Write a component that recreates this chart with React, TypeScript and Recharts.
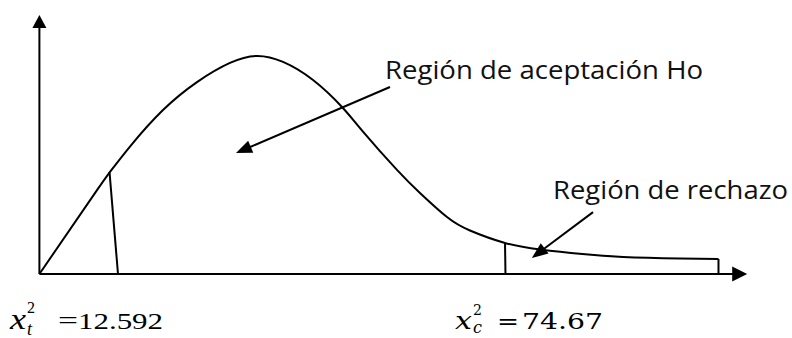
import React from "react";
import { ComposedChart, Line, XAxis, YAxis, ReferenceLine } from "recharts";

// Curve (x in chi-square units, y in relative density units 0..100)
const curveX = [0, 9.23, 11.31, 14.51, 19.8, 25.25, 30.53, 34.86, 39.03, 43.84, 48.48, 51.84, 57.29, 60.97, 65.3, 68.98, 74.59, 80.2, 87, 93.5, 102.6, 108.8];
const curveY = [0, 32.4, 39.4, 49.2, 63.3, 74.1, 81.5, 84.2, 81.9, 74.9, 64.5, 55.0, 40.2, 31.3, 22.0, 16.8, 12.0, 9.5, 7.7, 6.6, 6.0, 5.8];

const xMax = 113.4;
const yMax = 100;

const chiTabla = 12.592;
const chiCalc = 74.67;
const tablaTopX = 11.23;
const tablaTopY = 39.4;
const calcTopX = 74.6;
const calcTopY = 12.0;
const tailEndX = 108.8;
const tailEndY = 5.8;

const arrowAceptacion = [{ x: 56.17, y: 72.2 }, { x: 31.5, y: 46.7 }];
const arrowRechazo = [{ x: 88.7, y: 23.9 }, { x: 78.9, y: 6.2 }];

const labelAceptacion = "Región de aceptación Ho";
const labelRechazo = "Región de rechazo";
const valorTabla = "12.592";
const valorCalc = "74.67";

const curveData = curveX.map((x, i) => ({ x, y: curveY[i] }));

const makeArrow = (headLen: number, headW: number, sw: number) => (props: any) => {
  const { x1, y1, x2, y2 } = props;
  const dx = x2 - x1;
  const dy = y2 - y1;
  const len = Math.sqrt(dx * dx + dy * dy) || 1;
  const ux = dx / len;
  const uy = dy / len;
  const bx = x2 - ux * headLen;
  const by = y2 - uy * headLen;
  const px = -uy * (headW / 2);
  const py = ux * (headW / 2);
  return (
    <g>
      <line x1={x1} y1={y1} x2={bx + ux * 2} y2={by + uy * 2} stroke="#000" strokeWidth={sw} />
      <polygon points={`${x2},${y2} ${bx + px},${by + py} ${bx - px},${by - py}`} fill="#000" />
    </g>
  );
};

const plainLine = (props: any) => {
  const { x1, y1, x2, y2 } = props;
  return <line x1={x1} y1={y1} x2={x2} y2={y2} stroke="#000" strokeWidth={2} />;
};

export default function App() {
  return (
    <div style={{ position: "absolute", left: 0, top: 0, width: 792, height: 338, background: "#fff" }}>
      <ComposedChart
        width={792}
        height={338}
        data={curveData}
        margin={{ top: 15, right: 44.8, bottom: 64, left: 39.4 }}
      >
        <XAxis type="number" dataKey="x" domain={[0, xMax]} hide />
        <YAxis type="number" domain={[0, yMax]} hide />
        <ReferenceLine
          ifOverflow="visible"
          segment={[{ x: 0, y: 0 }, { x: xMax, y: 0 }]}
          shape={makeArrow(15, 15, 2)}
        />
        <ReferenceLine
          ifOverflow="visible"
          segment={[{ x: 0, y: 0 }, { x: 0, y: yMax }]}
          shape={makeArrow(13, 14, 2)}
        />
        <ReferenceLine
          ifOverflow="visible"
          segment={[{ x: tablaTopX, y: tablaTopY }, { x: chiTabla, y: 0 }]}
          shape={plainLine}
        />
        <ReferenceLine
          ifOverflow="visible"
          segment={[{ x: calcTopX, y: calcTopY }, { x: chiCalc, y: 0 }]}
          shape={plainLine}
        />
        <ReferenceLine
          ifOverflow="visible"
          segment={[{ x: tailEndX, y: tailEndY }, { x: tailEndX, y: 0 }]}
          shape={plainLine}
        />
        <ReferenceLine
          ifOverflow="visible"
          segment={arrowAceptacion}
          shape={makeArrow(16, 13, 2)}
        />
        <ReferenceLine
          ifOverflow="visible"
          segment={arrowRechazo}
          shape={makeArrow(16, 13, 2)}
        />
        <Line
          type="natural"
          dataKey="y"
          stroke="#000"
          strokeWidth={2}
          dot={false}
          isAnimationActive={false}
        />
      </ComposedChart>
      <svg
        width={792}
        height={338}
        style={{ position: "absolute", left: 0, top: 0, pointerEvents: "none" }}
      >
        <text x={385} y={79} fontFamily="'Open Sans', sans-serif" fontSize={25} fill="#111" textLength={318} lengthAdjust="spacingAndGlyphs">
          {labelAceptacion}
        </text>
        <text x={553} y={199} fontFamily="'Open Sans', sans-serif" fontSize={25} fill="#111" textLength={235} lengthAdjust="spacingAndGlyphs">
          {labelRechazo}
        </text>

        <g fontFamily="'Liberation Serif', serif" fill="#000">
          <text x={10} y={329} fontSize={30} fontStyle="italic" textLength={16} lengthAdjust="spacingAndGlyphs">x</text>
          <text x={27} y={313} fontSize={16}>2</text>
          <text x={27} y={335} fontSize={18} fontStyle="italic">t</text>
          <text x={58} y={329} fontSize={26} textLength={20} lengthAdjust="spacingAndGlyphs">=</text>
          <text x={78} y={329} fontSize={24} textLength={85} lengthAdjust="spacingAndGlyphs">{valorTabla}</text>
        </g>

        <g fontFamily="'DejaVu Serif', serif" fill="#000">
          <text x={455} y={329} fontSize={24} fontStyle="italic" textLength={17} lengthAdjust="spacingAndGlyphs">x</text>
          <text x={473} y={315} fontSize={14}>2</text>
          <text x={473} y={333} fontSize={16} fontStyle="italic">c</text>
          <text x={497} y={329} fontSize={22} textLength={22} lengthAdjust="spacingAndGlyphs">=</text>
          <text x={522} y={329} fontSize={22} textLength={81} lengthAdjust="spacingAndGlyphs">{valorCalc}</text>
        </g>
      </svg>
    </div>
  );
}
